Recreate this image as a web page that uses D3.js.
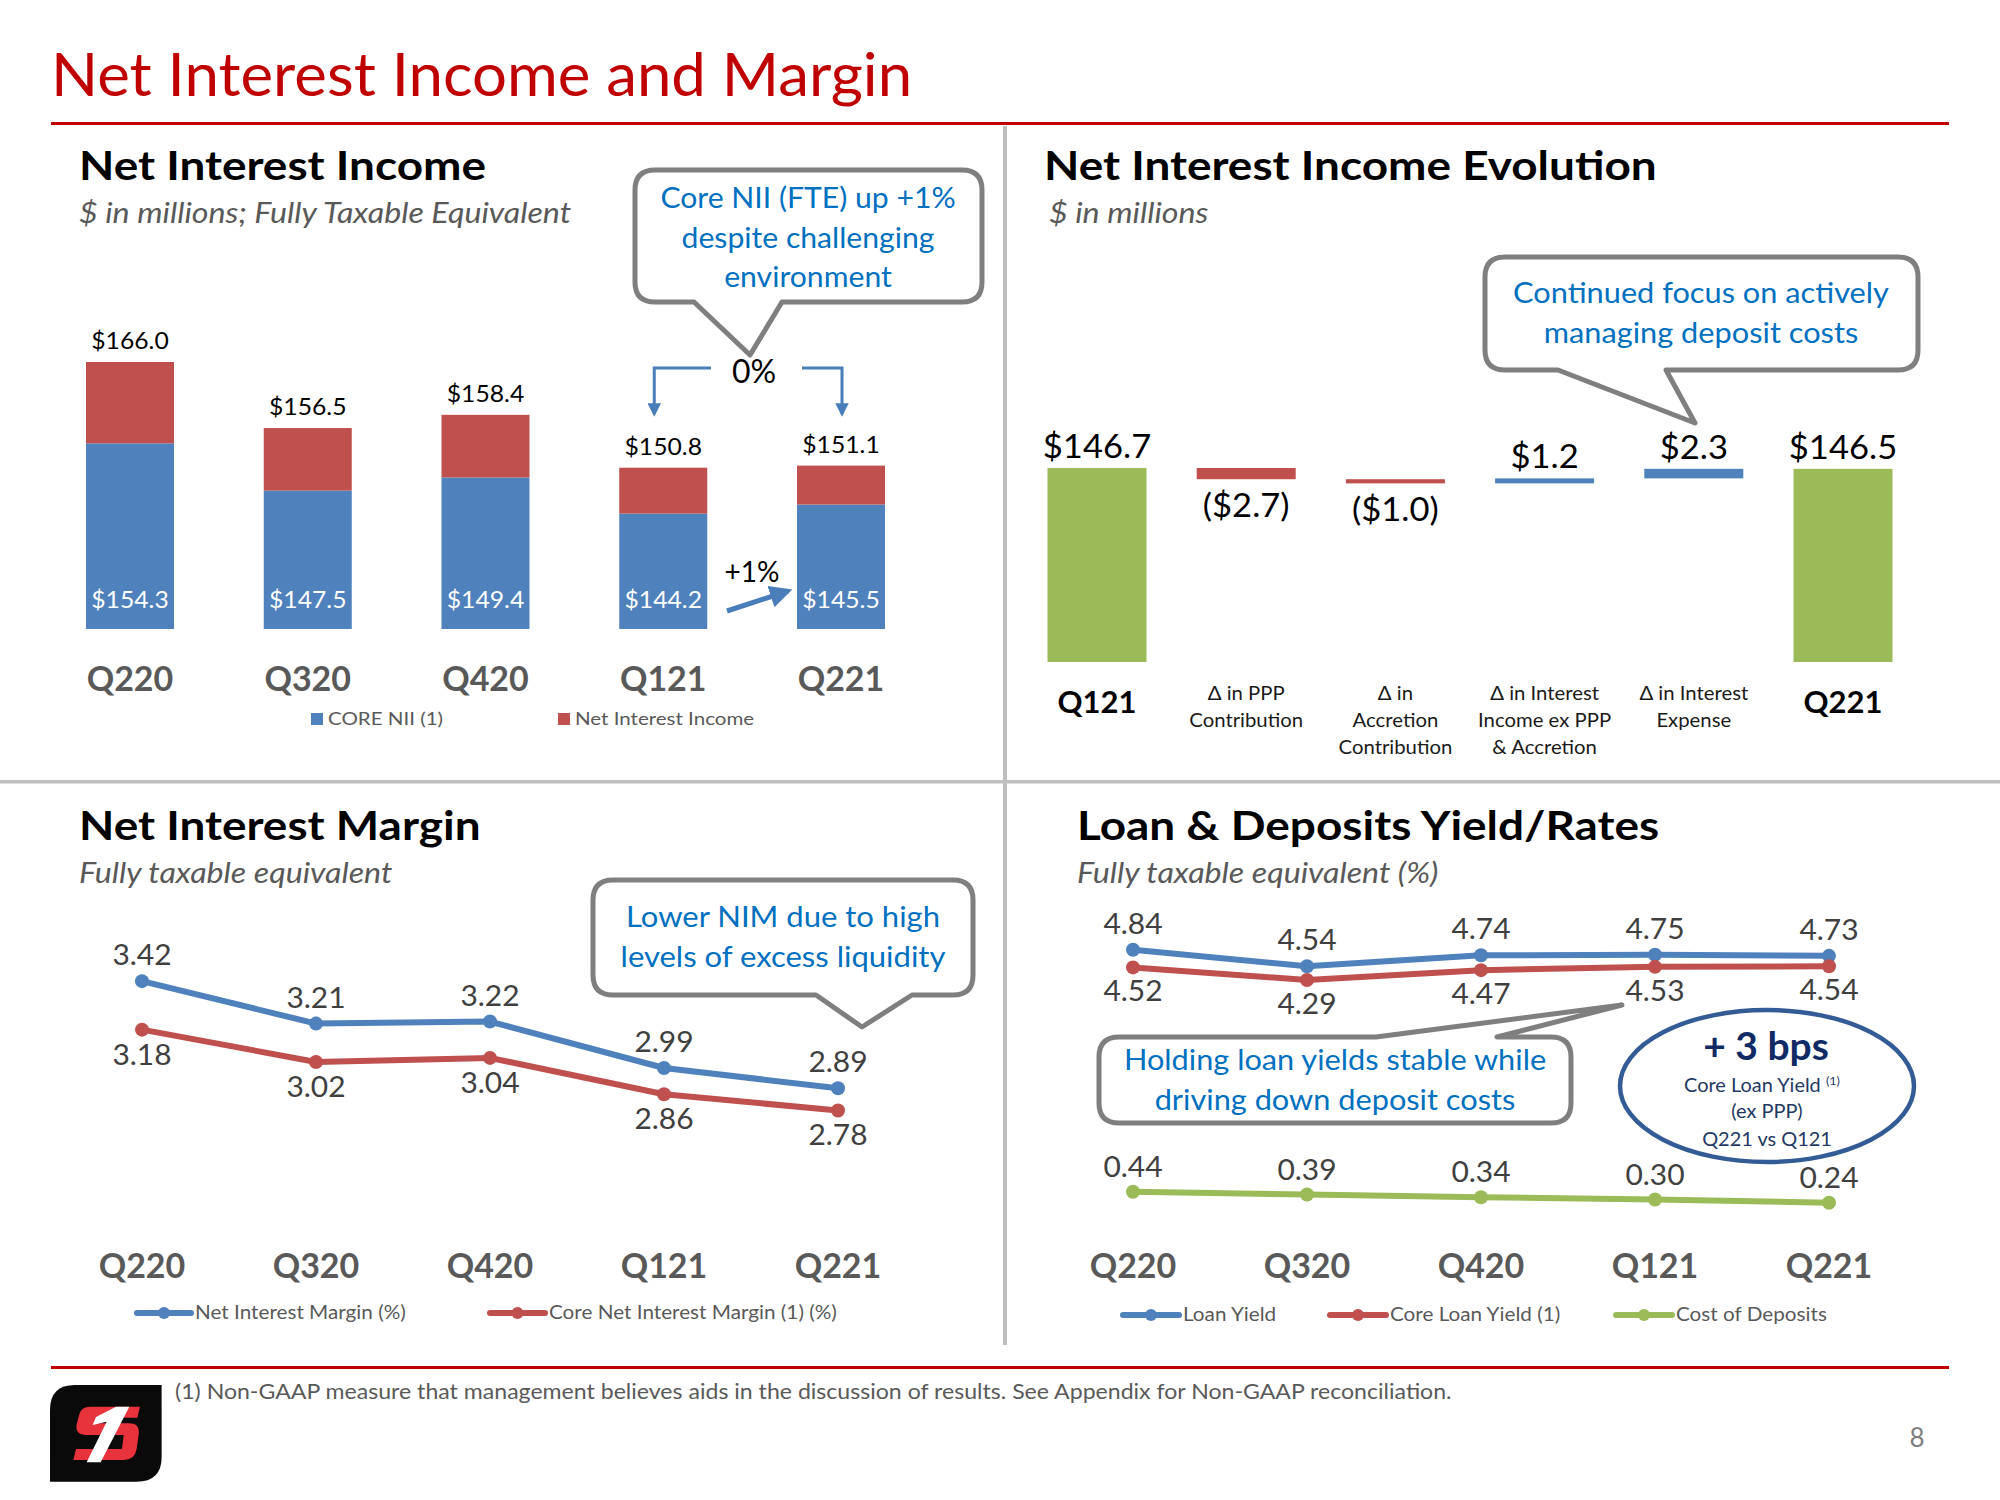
<!DOCTYPE html>
<html><head><meta charset="utf-8">
<script src="https://cdn.jsdelivr.net/npm/d3@7"></script>
<style>
body{margin:0;background:#fff}
svg{display:block}
text{font-family:Lato,"Open Sans",sans-serif}
</style>
</head><body>
<svg id="c" width="2000" height="1500"></svg>
<script>
// ---------- DATA ----------
const quarters = ["Q220","Q320","Q420","Q121","Q221"];
const coreNII = [154.3,147.5,149.4,144.2,145.5];
const totalNII = [166.0,156.5,158.4,150.8,151.1];

const wfNames = [["Q121"],["Δ in PPP","Contribution"],["Δ in","Accretion","Contribution"],["Δ in Interest","Income ex PPP","& Accretion"],["Δ in Interest","Expense"],["Q221"]];
const wfTypes = ["total","delta","delta","delta","delta","total"];
const wfValues = [146.7,-2.7,-1.0,1.2,2.3,146.5];
const wfLabels = ["$146.7","($2.7)","($1.0)","$1.2","$2.3","$146.5"];

const nim = [3.42,3.21,3.22,2.99,2.89];
const coreNim = [3.18,3.02,3.04,2.86,2.78];

const loanYield = [4.84,4.54,4.74,4.75,4.73];
const coreLoanYield = [4.52,4.29,4.47,4.53,4.54];
const costDeposits = [0.44,0.39,0.34,0.30,0.24];

// ---------- STYLE ----------
const C = {blue:"#4F81BD", red:"#C0504D", green:"#9BBB59", title:"#C00000", gray:"#595959", dark:"#404040", callout:"#0070C0", box:"#7F7F7F", navy:"#1F3864"};

const svg = d3.select("#c");

function txt(g, x, y, s, size, opts={}) {
  const t = g.append("text").text(s)
    .attr("font-size",size)
    .attr("fill",opts.fill||"#000")
    .attr("font-weight",opts.bold?"bold":null)
    .attr("font-style",opts.italic?"italic":null)
    .attr("text-anchor",opts.anchor||"start");
  if(opts.sx) t.attr("x",0).attr("y",0).attr("transform",`translate(${x},${y}) scale(${opts.sx},1)`);
  else t.attr("x",x).attr("y",y);
  return t;
}

function callout(x0,y0,x1,y1,r,side,b1,b2,tx,ty){
  let p = `M${x0+r},${y0}`;
  if(side==="top") p += ` H${b1} L${tx},${ty} L${b2},${y0}`;
  p += ` H${x1-r} Q${x1},${y0} ${x1},${y0+r} V${y1-r} Q${x1},${y1} ${x1-r},${y1}`;
  if(side==="bottom") p += ` H${b2} L${tx},${ty} L${b1},${y1}`;
  p += ` H${x0+r} Q${x0},${y1} ${x0},${y1-r} V${y0+r} Q${x0},${y0} ${x0+r},${y0} Z`;
  svg.append("path").attr("d",p).attr("fill","#fff").attr("stroke",C.box).attr("stroke-width",5).attr("stroke-linejoin","round");
}
function calloutText(cx, ys, lines, size, sx){
  lines.forEach((l,i)=>txt(svg,cx,ys[i],l,size,{fill:C.callout,anchor:"middle",sx:sx}));
}

// ---------- FRAME ----------
txt(svg,51,96,"Net Interest Income and Margin",60,{fill:C.title,sx:1.03});
svg.append("rect").attr("x",51).attr("y",122).attr("width",1898).attr("height",3).attr("fill",C.title);
svg.append("rect").attr("x",1003).attr("y",126).attr("width",4).attr("height",1219).attr("fill","#BFBFBF");
svg.append("rect").attr("x",0).attr("y",780).attr("width",2000).attr("height",3.5).attr("fill","#BFBFBF");
svg.append("rect").attr("x",51).attr("y",1366).attr("width",1898).attr("height",3).attr("fill",C.title);
txt(svg,175,1399,"(1)  Non-GAAP measure that management believes aids in the discussion of results. See Appendix for Non-GAAP reconciliation.",21,{fill:C.gray,sx:1.1});
txt(svg,1917,1447,"8",26,{fill:"#7F7F7F",anchor:"middle"});

// logo
const logo = svg.append("g").attr("transform","translate(40,1375) scale(0.3333)");
logo.append("path").attr("d","M105,30 H365 V245 Q365,320 290,320 H30 V105 Q30,30 105,30 Z").attr("fill","#0a0a0a");
logo.append("path").attr("d","M150,95 H300 L292,128 H170 L166,145 H268 Q300,145 296,178 L290,222 Q284,255 252,255 H100 L108,222 H246 L251,180 H140 Q104,180 110,148 L118,118 Q124,95 150,95 Z").attr("fill","#E8333C");
logo.append("path").attr("d","M228,95 H268 L182,262 H140 L200,140 L158,150 L168,126 Z").attr("fill","#fff");

// ---------- PANEL 1 : NII stacked bars ----------
txt(svg,79,180,"Net Interest Income",41,{bold:true,sx:1.12});
txt(svg,79,223,"$ in millions; Fully Taxable Equivalent",28,{fill:C.gray,italic:true,sx:1.15});

const x1 = d3.scalePoint().domain(quarters).range([130,841]);
const y1 = d3.scaleLinear().domain([127.6,166]).range([629,362]);
const bw1 = 88;
const p1 = svg.append("g");
quarters.forEach((q,i)=>{
  p1.append("rect").attr("x",x1(q)-bw1/2).attr("width",bw1)
    .attr("y",y1(coreNII[i])).attr("height",y1(y1.domain()[0])-y1(coreNII[i])).attr("fill",C.blue);
  p1.append("rect").attr("x",x1(q)-bw1/2).attr("width",bw1)
    .attr("y",y1(totalNII[i])).attr("height",y1(coreNII[i])-y1(totalNII[i])).attr("fill",C.red);
  txt(p1,x1(q),y1(totalNII[i])-13,"$"+totalNII[i].toFixed(1),24,{anchor:"middle",sx:1.03});
  txt(p1,x1(q),608,"$"+coreNII[i].toFixed(1),24,{anchor:"middle",fill:"#fff",sx:1.03});
  txt(p1,x1(q),691,q,34,{anchor:"middle",bold:true,fill:C.gray});
});
p1.append("rect").attr("x",311).attr("y",713).attr("width",12).attr("height",12).attr("fill",C.blue);
txt(p1,328,725,"CORE NII (1)",18,{fill:C.gray,sx:1.14});
p1.append("rect").attr("x",558).attr("y",713).attr("width",12).attr("height",12).attr("fill",C.red);
txt(p1,575,725,"Net Interest Income",18,{fill:C.gray,sx:1.14});

const defs = svg.append("defs");
defs.append("marker").attr("id","ah").attr("viewBox","0 0 10 10").attr("refX",8).attr("refY",5)
  .attr("markerWidth",4.5).attr("markerHeight",4.5).attr("orient","auto")
  .append("path").attr("d","M0,0 L10,5 L0,10 Z").attr("fill","#4A7EBB");
const xQ121 = x1("Q121"), xQ221 = x1("Q221");
p1.append("path").attr("d",`M711,368 H${xQ121-9} V414`).attr("fill","none").attr("stroke","#4A7EBB").attr("stroke-width",3).attr("marker-end","url(#ah)");
p1.append("path").attr("d",`M802,368 H${xQ221+1} V414`).attr("fill","none").attr("stroke","#4A7EBB").attr("stroke-width",3).attr("marker-end","url(#ah)");
txt(p1,754,383,"0%",32,{anchor:"middle"});
txt(p1,752,582,"+1%",28,{anchor:"middle"});
p1.append("path").attr("d","M727,611 L788,591").attr("stroke","#4A7EBB").attr("stroke-width",5).attr("marker-end","url(#ah)");

callout(635,170,982,302,20,"bottom",694,782,750,355);
calloutText(808,[208,248,287],["Core NII (FTE) up +1%","despite challenging","environment"],29,1.04);

// ---------- PANEL 2 : Waterfall ----------
txt(svg,1044,180,"Net Interest Income Evolution",41,{bold:true,sx:1.12});
txt(svg,1049,223,"$ in millions",28,{fill:C.gray,italic:true,sx:1.15});

const wfIds = wfNames.map(d=>d.join(" "));
const xw = d3.scalePoint().domain(wfIds).range([1097,1843]);
const yw = d3.scaleLinear().domain([100,146.7]).range([662,468]);
const bww = 99;
const p2 = svg.append("g");
let run = 0;
wfIds.forEach((id,i)=>{
  let top, bot, col;
  if(wfTypes[i]==="total"){ run = wfValues[i]; top = yw(run); bot = yw(yw.domain()[0]); col = C.green; }
  else { const s = run; run = run + wfValues[i]; top = yw(Math.max(s,run)); bot = yw(Math.min(s,run)); col = wfValues[i]<0?C.red:C.blue; }
  p2.append("rect").attr("x",xw(id)-bww/2).attr("width",bww).attr("y",top).attr("height",bot-top).attr("fill",col);
  const ly = (wfTypes[i]==="delta" && wfValues[i]<0) ? bot+38 : top-10;
  txt(p2,xw(id),ly,wfLabels[i],32,{anchor:"middle",sx:1.08});
  if(wfTypes[i]==="total") txt(p2,xw(id),713,wfNames[i][0],31,{anchor:"middle",bold:true});
  else wfNames[i].forEach((l,k)=>txt(p2,xw(id),700+k*27,l,19,{anchor:"middle",fill:"#1a1a1a",sx:1.07}));
});
callout(1485,257,1918,370,20,"bottom",1558,1666,1695,423);
calloutText(1701,[303,343],["Continued focus on actively","managing deposit costs"],29,1.06);

// ---------- PANEL 3 : NIM lines ----------
txt(svg,79,840,"Net Interest Margin",41,{bold:true,sx:1.12});
txt(svg,79,883,"Fully taxable equivalent",28,{fill:C.gray,italic:true,sx:1.15});
const x3 = d3.scalePoint().domain(quarters).range([142,838]);
const y3 = d3.scaleLinear().domain([2.5,3.5]).range([1167,965]);
const p3 = svg.append("g");
function series(g, xs, ys, vals, col){
  const line = d3.line().x((d,i)=>xs(quarters[i])).y(d=>ys(d));
  g.append("path").datum(vals).attr("d",line).attr("fill","none").attr("stroke",col).attr("stroke-width",6).attr("stroke-linejoin","round");
  vals.forEach((v,i)=>{
    g.append("circle").attr("cx",xs(quarters[i])).attr("cy",ys(v)).attr("r",7).attr("fill",col);
  });
}
function labels(g, xs, ys, vals, dy){
  vals.forEach((v,i)=>txt(g,xs(quarters[i]),ys(v)+dy,v.toFixed(2),28,{anchor:"middle",fill:C.dark,sx:1.07}));
}
series(p3,x3,y3,nim,C.blue);
series(p3,x3,y3,coreNim,C.red);
labels(p3,x3,y3,nim,-16);
labels(p3,x3,y3,coreNim,35);
quarters.forEach(q=>txt(p3,x3(q),1278,q,34,{anchor:"middle",bold:true,fill:C.gray}));
function legendLine(g,xa,xb,y,col,label){
  g.append("line").attr("x1",xa).attr("x2",xb).attr("y1",y).attr("y2",y).attr("stroke",col).attr("stroke-width",6).attr("stroke-linecap","round");
  g.append("circle").attr("cx",(xa+xb)/2).attr("cy",y).attr("r",6).attr("fill",col);
  txt(g,xb+4,y+6,label,19,{fill:C.gray,sx:1.09});
}
legendLine(p3,137,191,1313,C.blue,"Net Interest Margin (%)");
legendLine(p3,490,545,1313,C.red,"Core Net Interest Margin (1) (%)");
callout(593,880,973,995,20,"bottom",816,912,862,1027);
calloutText(783,[927,967],["Lower NIM due to high","levels of excess liquidity"],29,1.07);

// ---------- PANEL 4 : Yields ----------
txt(svg,1077,840,"Loan & Deposits Yield/Rates",41,{bold:true,sx:1.12});
txt(svg,1077,883,"Fully taxable equivalent (%)",28,{fill:C.gray,italic:true,sx:1.15});
const x4 = d3.scalePoint().domain(quarters).range([1133,1829]);
const y4 = d3.scaleLinear().domain([0,5]).range([1216,941]);
const p4 = svg.append("g");
series(p4,x4,y4,loanYield,C.blue);
series(p4,x4,y4,coreLoanYield,C.red);
series(p4,x4,y4,costDeposits,C.green);
labels(p4,x4,y4,loanYield,-16);
labels(p4,x4,y4,coreLoanYield,34);
labels(p4,x4,y4,costDeposits,-15);
quarters.forEach(q=>txt(p4,x4(q),1278,q,34,{anchor:"middle",bold:true,fill:C.gray}));
legendLine(p4,1123,1179,1315,C.blue,"Loan Yield");
legendLine(p4,1330,1386,1315,C.red,"Core Loan Yield (1)");
legendLine(p4,1616,1672,1315,C.green,"Cost of Deposits");

callout(1099,1037,1571,1123,20,"top",1376,1497,1622,1005);
calloutText(1335,[1070,1110],["Holding loan yields stable while","driving down deposit costs"],29,1.06);

svg.append("ellipse").attr("cx",1767).attr("cy",1086).attr("rx",147).attr("ry",76)
  .attr("fill","#fff").attr("stroke","#335C96").attr("stroke-width",4.5);
txt(svg,1766,1060,"+ 3 bps",39,{anchor:"middle",bold:true,fill:"#102A66"});
const t = txt(svg,1762,1092,"Core Loan Yield ",19,{anchor:"middle",fill:C.navy,sx:1.05});
t.append("tspan").attr("font-size",12).attr("dy",-7).text("(1)");
txt(svg,1767,1118,"(ex PPP)",19,{anchor:"middle",fill:C.navy,sx:1.05});
txt(svg,1767,1146,"Q221 vs Q121",19,{anchor:"middle",fill:C.navy,sx:1.05});
</script>
</body></html>
